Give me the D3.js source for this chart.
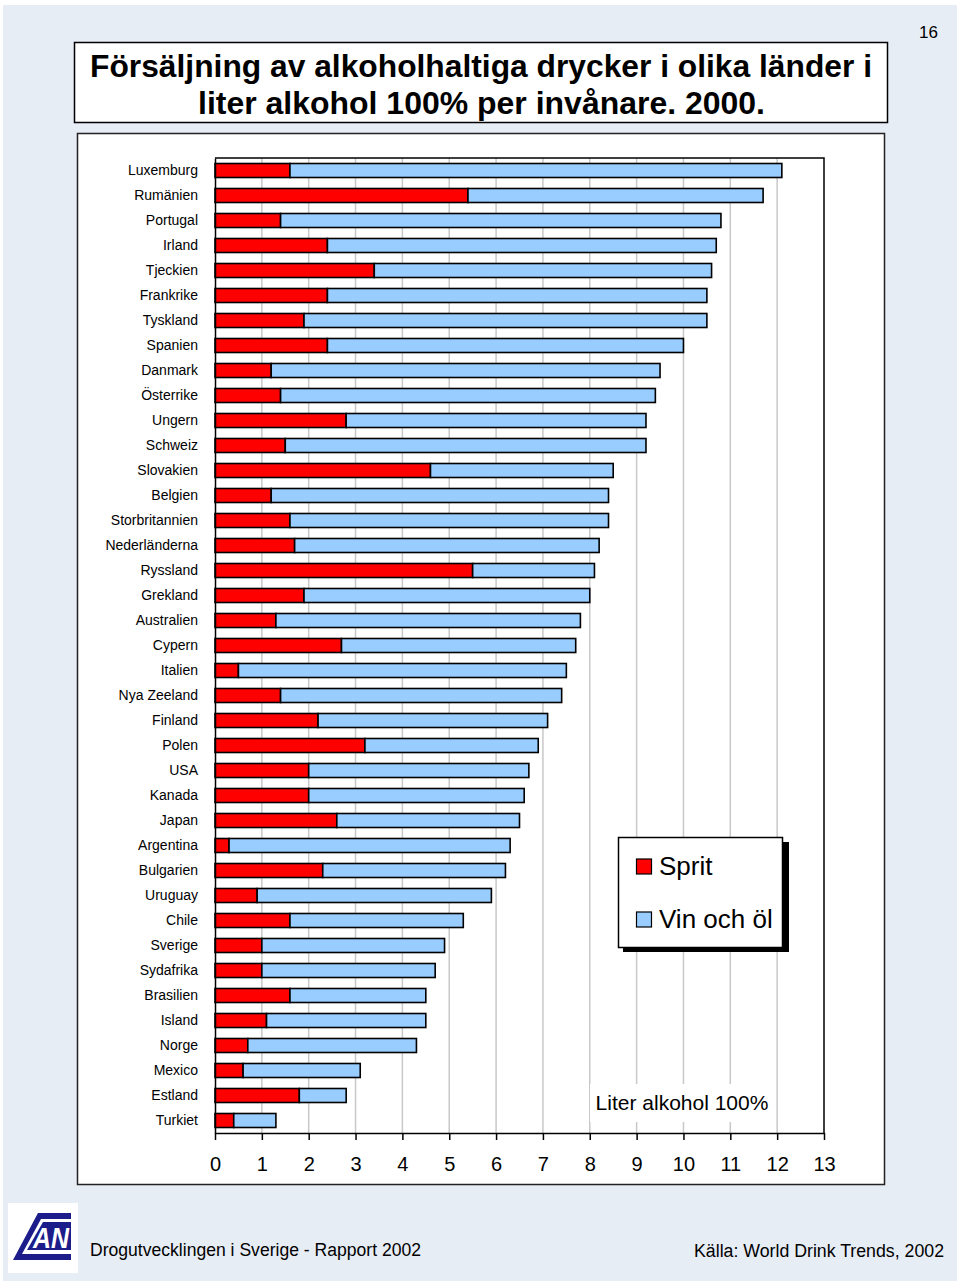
<!DOCTYPE html>
<html><head><meta charset="utf-8">
<script src="https://cdn.jsdelivr.net/npm/d3@7"></script>
<style>
html,body{margin:0;padding:0;background:#fff;}
svg{display:block;font-family:"Liberation Sans",Arial,sans-serif;}
</style></head>
<body>
<svg id="c" width="960" height="1287"></svg>
<script>
const countries = ["Luxemburg","Rumänien","Portugal","Irland","Tjeckien","Frankrike","Tyskland","Spanien","Danmark","Österrike","Ungern","Schweiz","Slovakien","Belgien","Storbritannien","Nederländerna","Ryssland","Grekland","Australien","Cypern","Italien","Nya Zeeland","Finland","Polen","USA","Kanada","Japan","Argentina","Bulgarien","Uruguay","Chile","Sverige","Sydafrika","Brasilien","Island","Norge","Mexico","Estland","Turkiet"];
const sprit = [1.6,5.4,1.4,2.4,3.4,2.4,1.9,2.4,1.2,1.4,2.8,1.5,4.6,1.2,1.6,1.7,5.5,1.9,1.3,2.7,0.5,1.4,2.2,3.2,2.0,2.0,2.6,0.3,2.3,0.9,1.6,1.0,1.0,1.6,1.1,0.7,0.6,1.8,0.4];
const vinOchOl = [10.5,6.3,9.4,8.3,7.2,8.1,8.6,7.6,8.3,8.0,6.4,7.7,3.9,7.2,6.8,6.5,2.6,6.1,6.5,5.0,7.0,6.0,4.9,3.7,4.7,4.6,3.9,6.0,3.9,5.0,3.7,3.9,3.7,2.9,3.4,3.6,2.5,1.0,0.9];
const seriesNames = ["Sprit","Vin och öl"];
const seriesColors = ["#ff0000","#99ccff"];
const xTicks = [0,1,2,3,4,5,6,7,8,9,10,11,12,13];
const titleLines = ["Försäljning av alkoholhaltiga drycker i olika länder i","liter alkohol 100% per invånare. 2000."];
const axisTitle = "Liter alkohol 100%";
const pageNumber = "16";
const footerLeft = "Drogutvecklingen i Sverige - Rapport 2002";
const footerRight = "Källa: World Drink Trends, 2002";

const svg = d3.select("#c");
svg.append("rect").attr("x",3).attr("y",5).attr("width",954).attr("height",1276).attr("fill","#e7edf5");

svg.append("text").attr("x",938).attr("y",38).attr("text-anchor","end").attr("font-size",17).attr("fill","#000").text(pageNumber);

// title box
svg.append("rect").attr("x",74.5).attr("y",42.5).attr("width",813).attr("height",80).attr("fill","#fff").attr("stroke","#000").attr("stroke-width",1.5);
const titleBox = [[90,782],[198,567]];
const titleY = [77, 114];
titleLines.forEach((t,i)=>{
  svg.append("text").attr("x",titleBox[i][0]).attr("y",titleY[i])
    .attr("font-weight","bold").attr("font-size",32).attr("fill","#000")
    .attr("textLength",titleBox[i][1]).attr("lengthAdjust","spacingAndGlyphs").text(t);
});

// chart box
svg.append("rect").attr("x",77.5).attr("y",133.5).attr("width",807).attr("height",1051).attr("fill","#fff").attr("stroke","#222").attr("stroke-width",1.5);

const x = d3.scaleLinear().domain([0,13]).range([215,824]);
const y = d3.scaleBand().domain(countries).range([158,1133]).paddingInner(0.44).paddingOuter(0.22);

svg.append("g").selectAll("line").data(xTicks.filter(d=>d>0&&d<13)).join("line")
  .attr("x1",d=>x(d)).attr("x2",d=>x(d)).attr("y1",158).attr("y2",1133)
  .attr("stroke","#c8c8c8").attr("stroke-width",1.5);

svg.append("rect").attr("x",590).attr("y",1084).attr("width",185).attr("height",38).attr("fill","#fff");
svg.append("text").attr("x",682).attr("y",1110).attr("text-anchor","middle").attr("font-size",21).attr("fill","#000").text(axisTitle);

const rows = countries.map((c,i)=>({country:c, "Sprit":sprit[i], "Vin och öl":vinOchOl[i]}));
const stack = d3.stack().keys(seriesNames)(rows);
svg.append("g").selectAll("g").data(stack).join("g")
  .attr("fill",(d,i)=>seriesColors[i])
  .selectAll("rect").data(d=>d).join("rect")
  .attr("x",d=>x(d[0])).attr("width",d=>x(d[1])-x(d[0]))
  .attr("y",d=>y(d.data.country)).attr("height",y.bandwidth())
  .attr("stroke","#000").attr("stroke-width",1.6);

svg.append("path").attr("d",`M${x(0)},158H${x(13)}V1133`).attr("fill","none").attr("stroke","#000").attr("stroke-width",1.5);

const xa = svg.append("g").attr("transform","translate(0,1133)")
  .call(d3.axisBottom(x).tickValues(xTicks).tickSize(7).tickPadding(17).tickSizeOuter(0));
xa.selectAll("text").attr("font-size",20).attr("font-family","Liberation Sans, Arial, sans-serif").attr("fill","#000");
xa.selectAll("line").attr("stroke","#000").attr("stroke-width",1.5);
xa.select(".domain").attr("stroke","#000").attr("stroke-width",1.5);

const ya = svg.append("g").attr("transform",`translate(${x(0)},0)`)
  .call(d3.axisLeft(y).tickSize(0).tickPadding(17));
ya.selectAll("text").attr("font-size",14).attr("font-family","Liberation Sans, Arial, sans-serif").attr("fill","#000");
ya.select(".domain").attr("stroke","#000").attr("stroke-width",1.5);

// legend
const lg = svg.append("g");
lg.append("rect").attr("x",623).attr("y",842).attr("width",166).attr("height",110).attr("fill","#000");
lg.append("rect").attr("x",618.5).attr("y",837.5).attr("width",164).attr("height",110).attr("fill","#fff").attr("stroke","#000").attr("stroke-width",1.5);
const legY = [866, 919];
seriesNames.forEach((s,i)=>{
  lg.append("rect").attr("x",636.5).attr("y",legY[i]-7).attr("width",15).attr("height",15)
    .attr("fill",seriesColors[i]).attr("stroke","#000").attr("stroke-width",1.2);
  lg.append("text").attr("x",659).attr("y",legY[i]+9).attr("font-size",26).attr("fill","#000").text(s);
});

// footer
svg.append("text").attr("x",90).attr("y",1256).attr("font-size",18).attr("fill","#000")
  .attr("textLength",331).attr("lengthAdjust","spacingAndGlyphs").text(footerLeft);
svg.append("text").attr("x",694).attr("y",1257).attr("font-size",18).attr("fill","#000")
  .attr("textLength",250).attr("lengthAdjust","spacingAndGlyphs").text(footerRight);

// logo
const logo = svg.append("g");
logo.append("rect").attr("x",8).attr("y",1203).attr("width",70).attr("height",70).attr("fill","#fff");
logo.append("path").attr("d","M13,1260 L38,1213 L71,1213 L71,1260 Z").attr("fill","#1c1c8a");
logo.append("path").attr("d","M22,1254 L41,1219 L71,1219 L71,1254 Z").attr("fill","#fff");
logo.append("path").attr("d","M27,1250 L43,1222 L71,1222 L71,1250 Z").attr("fill","#1c1c8a");
logo.append("text").attr("x",33).attr("y",1248).attr("font-size",30).attr("font-weight","bold").attr("font-style","italic")
  .attr("fill","#fff").attr("textLength",36).attr("lengthAdjust","spacingAndGlyphs").text("AN");
</script>
</body></html>
